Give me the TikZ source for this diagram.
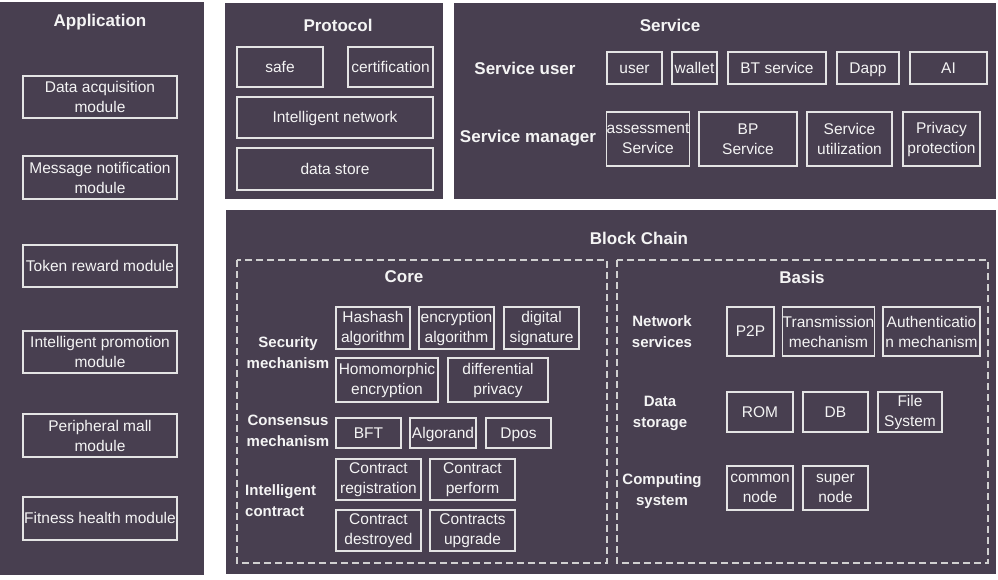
\documentclass[tikz,border=0pt]{standalone}
\usepackage{fontspec}
\setmainfont{Liberation Sans}
\definecolor{panelc}{HTML}{483F50}
\definecolor{txtc}{HTML}{F4F4F4}
\definecolor{linec}{HTML}{E4E4E4}
\definecolor{dashc}{HTML}{D0D0D0}
\tikzset{
  panel/.style={fill=panelc, draw=none},
  box/.style={draw=linec, line width=1.3pt, inner sep=0pt, align=center, text=txtc,
    font=\fontsize{15.5}{20}\selectfont},
  onebox/.style={box, text height=13.5pt, text depth=3.2pt},
  ttl/.style={text=txtc, font=\fontsize{17}{20}\selectfont\bfseries, inner sep=0pt},
  lbl/.style={text=txtc, font=\fontsize{15}{21}\selectfont\bfseries, inner sep=0pt, align=center},
  lblbig/.style={text=txtc, font=\fontsize{17}{20}\selectfont\bfseries, inner sep=0pt},
  dashbox/.style={draw=dashc, line width=1.2pt, dash pattern=on 7pt off 4pt},
}
\newcommand\bx[6]{\node[box, minimum width={(#4-#2)*1pt}, minimum height={(#5-#3)*1pt}] (#1) at ({(#2+#4)/2},{(#3+#5)/2}) {#6};}
\newcommand\bxo[6]{\node[onebox, minimum width={(#4-#2)*1pt}, minimum height={(#5-#3)*1pt}] (#1) at ({(#2+#4)/2},{(#3+#5)/2}) {#6};}
\begin{document}
\begin{tikzpicture}[x=1pt,y=-1pt]
\useasboundingbox (0,0) rectangle (998,579);
\fill[white] (0,0) rectangle (998,579);
% panels
\fill[panel] (0,2) rectangle (204,575);
\fill[panel] (225,3) rectangle (443,199);
\fill[panel] (454,3) rectangle (996,199);
\fill[panel] (226,210) rectangle (996,574);
% Application
\node[ttl] (app) at (100,22) {Application};
\bx{a1}{23}{76}{177}{118}{Data acquisition\\module}
\bx{a2}{23}{156}{177}{199}{Message notification\\module}
\bxo{a3}{23}{245}{177}{287}{Token reward module}
\bx{a4}{23}{331}{177}{373}{Intelligent promotion\\module}
\bx{a5}{23}{414}{177}{457}{Peripheral mall\\module}
\bxo{a6}{23}{497}{177}{540}{Fitness health module}
% Protocol
\node[ttl] (proto) at (338,25) {Protocol};
\bxo{p1}{237}{47}{323}{87}{safe}
\bxo{p2}{348}{47}{433}{87}{certification}
\bxo{p3}{237}{97}{433}{138}{Intelligent network}
\bxo{p4}{237}{148}{433}{190}{data store}
% Service
\node[ttl] (serv) at (670,25) {Service};
\node[lblbig] (suser) at (525,68) {Service user};
\node[lblbig] (smgr) at (528,138) {Service manager};
\bxo{s1}{607}{52}{662}{84}{user}
\bxo{s2}{672}{52}{717}{84}{wallet}
\bxo{s3}{728}{52}{826}{84}{BT service}
\bxo{s4}{837}{52}{899}{84}{Dapp}
\bxo{s5}{910}{52}{987}{84}{AI}
\bx{m1}{607}{112}{689}{166}{assessment\\Service}
\bx{m2}{699}{112}{797}{166}{BP\\Service}
\bx{m3}{807}{112}{892}{166}{Service\\utilization}
\bx{m4}{903}{112}{980}{166}{Privacy\\protection}
% Block chain
\node[ttl] (bc) at (639,238) {Block Chain};
\draw[dashbox] (237,260) rectangle (607,563);
\draw[dashbox] (617,260) rectangle (988,563);
% Core
\node[ttl] (core) at (404,277) {Core};
\node[lbl] (secm) at (288,353) {Security\\mechanism};
\bx{c1}{336}{307}{410}{349}{Hashash\\algorithm}
\bx{c2}{419}{307}{494}{349}{encryption\\algorithm}
\bx{c3}{504}{307}{579}{349}{digital\\signature}
\bx{c4}{336}{358}{438}{402}{Homomorphic\\encryption}
\bx{c5}{448}{358}{548}{402}{differential\\privacy}
\node[lbl] (consm) at (288,431) {Consensus\\mechanism};
\bxo{c6}{336}{418}{401}{448}{BFT}
\bxo{c7}{410}{418}{476}{448}{Algorand}
\bxo{c8}{486}{418}{551}{448}{Dpos}
\node[lbl, align=left, anchor=west] (icon) at (245,501) {Intelligent\\contract};
\bx{c9}{336}{459}{421}{500}{Contract\\registration}
\bx{c10}{430}{459}{515}{500}{Contract\\perform}
\bx{c11}{336}{510}{421}{551}{Contract\\destroyed}
\bx{c12}{430}{510}{515}{551}{Contracts\\upgrade}
% Basis
\node[ttl] (basis) at (802,277) {Basis};
\node[lbl] (nets) at (662,332) {Network\\services};
\bxo{b1}{727}{307}{774}{356}{P2P}
\bx{b2}{783}{307}{874}{356}{Transmission\\mechanism}
\bx{b3}{883}{307}{980}{356}{Authenticatio\\n mechanism}
\node[lbl] (dats) at (660,413) {Data\\storage};
\bxo{b4}{727}{392}{793}{432}{ROM}
\bxo{b5}{803}{392}{868}{432}{DB}
\bx{b6}{878}{392}{942}{432}{File\\System}
\node[lbl] (comps) at (662,491) {Computing\\system};
\bx{b7}{727}{466}{793}{510}{common\\node}
\bx{b8}{803}{466}{868}{510}{super\\node}
\end{tikzpicture}
\end{document}
